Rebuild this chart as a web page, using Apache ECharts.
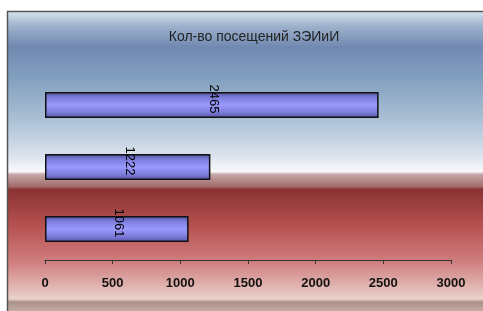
<!DOCTYPE html>
<html>
<head>
<meta charset="utf-8">
<script src="https://cdn.jsdelivr.net/npm/echarts@6/dist/echarts.min.js"></script>
<style>
    html, body { margin: 0; padding: 0; background: #fff; }
    #myChart { width: 483px; height: 311px; }
</style>
</head>
<body>
<div id="myChart"></div>
<script>
// данные диаграммы (снизу вверх)
var categories = ['3', '2', '1'];
var visits = [1061, 1222, 2465];
var tickMin = 0;
var tickMax = 3000;
var tickStep = 500;
var titleText = 'Кол-во посещений ЗЭИиИ';

window.onload = function () {

    var myChart = echarts.init(document.getElementById('myChart'));

    // фон области диаграммы: голубой сверху, красный снизу
    var bgGradient = new echarts.graphic.LinearGradient(0, 0, 0, 1, [
        {offset: 0.00, color: '#dae5ef'},
        {offset: 0.05, color: '#9db2cc'},
        {offset: 0.12, color: '#7189b1'},
        {offset: 0.22, color: '#819fbf'},
        {offset: 0.35, color: '#a7bdd3'},
        {offset: 0.48, color: '#d9e2ec'},
        {offset: 0.535, color: '#f9f9fb'},
        {offset: 0.545, color: '#c6a8a8'},
        {offset: 0.585, color: '#a26a6a'},
        {offset: 0.595, color: '#8a3232'},
        {offset: 0.72, color: '#b85252'},
        {offset: 0.84, color: '#d08080'},
        {offset: 0.96, color: '#ead2cb'},
        {offset: 0.97, color: '#a89088'},
        {offset: 1.00, color: '#c4aca4'}
    ]);

    var barGradient = new echarts.graphic.LinearGradient(0, 0, 0, 1, [
        {offset: 0.0, color: '#4e4e98'},
        {offset: 0.2, color: '#7c7cdc'},
        {offset: 0.5, color: '#9a9aff'},
        {offset: 0.8, color: '#7a7ad8'},
        {offset: 1.0, color: '#5454a8'}
    ]);

    var option = {
        animation: false,
        title: {
            text: titleText,
            left: 249,
            textAlign: 'center',
            top: 25,
            textStyle: {
                fontFamily: 'Liberation Sans',
                fontSize: 14,
                fontWeight: 'normal',
                color: '#222'
            }
        },
        graphic: [{
            type: 'rect',
            z: -10,
            shape: {x: 7, y: 11, width: 476, height: 300},
            style: {fill: bgGradient}
        }, {
            type: 'polyline',
            z: -9,
            shape: {points: [[7.5, 311], [7.5, 11.5], [483, 11.5]]},
            style: {stroke: '#555', lineWidth: 1.5, fill: null}
        }],
        grid: {
            left: 45,
            right: 32,
            top: 74,
            bottom: 51
        },
        xAxis: {
            type: 'value',
            min: tickMin,
            max: tickMax,
            interval: tickStep,
            splitLine: {show: false},
            axisLine: {show: true, lineStyle: {color: '#333', width: 1}},
            axisTick: {show: true, length: 4, lineStyle: {color: '#333'}},
            axisLabel: {
                margin: 17,
                formatter: function (v) { return String(v); },
                fontFamily: 'Liberation Sans',
                fontSize: 13,
                fontWeight: 'bold',
                color: '#111'
            }
        },
        yAxis: {
            type: 'category',
            data: categories,
            axisLine: {show: false},
            axisTick: {show: false},
            axisLabel: {show: false}
        },
        series: [{
            type: 'bar',
            data: visits,
            barWidth: 26,
            itemStyle: {
                color: barGradient,
                borderColor: '#111',
                borderWidth: 1.5
            },
            label: {
                show: true,
                position: 'inside',
                rotate: -90,
                offset: [-6, -2],
                fontFamily: 'Liberation Sans',
                fontSize: 13,
                color: '#000'
            }
        }]
    };

    myChart.setOption(option);
};
</script>
</body>
</html>
